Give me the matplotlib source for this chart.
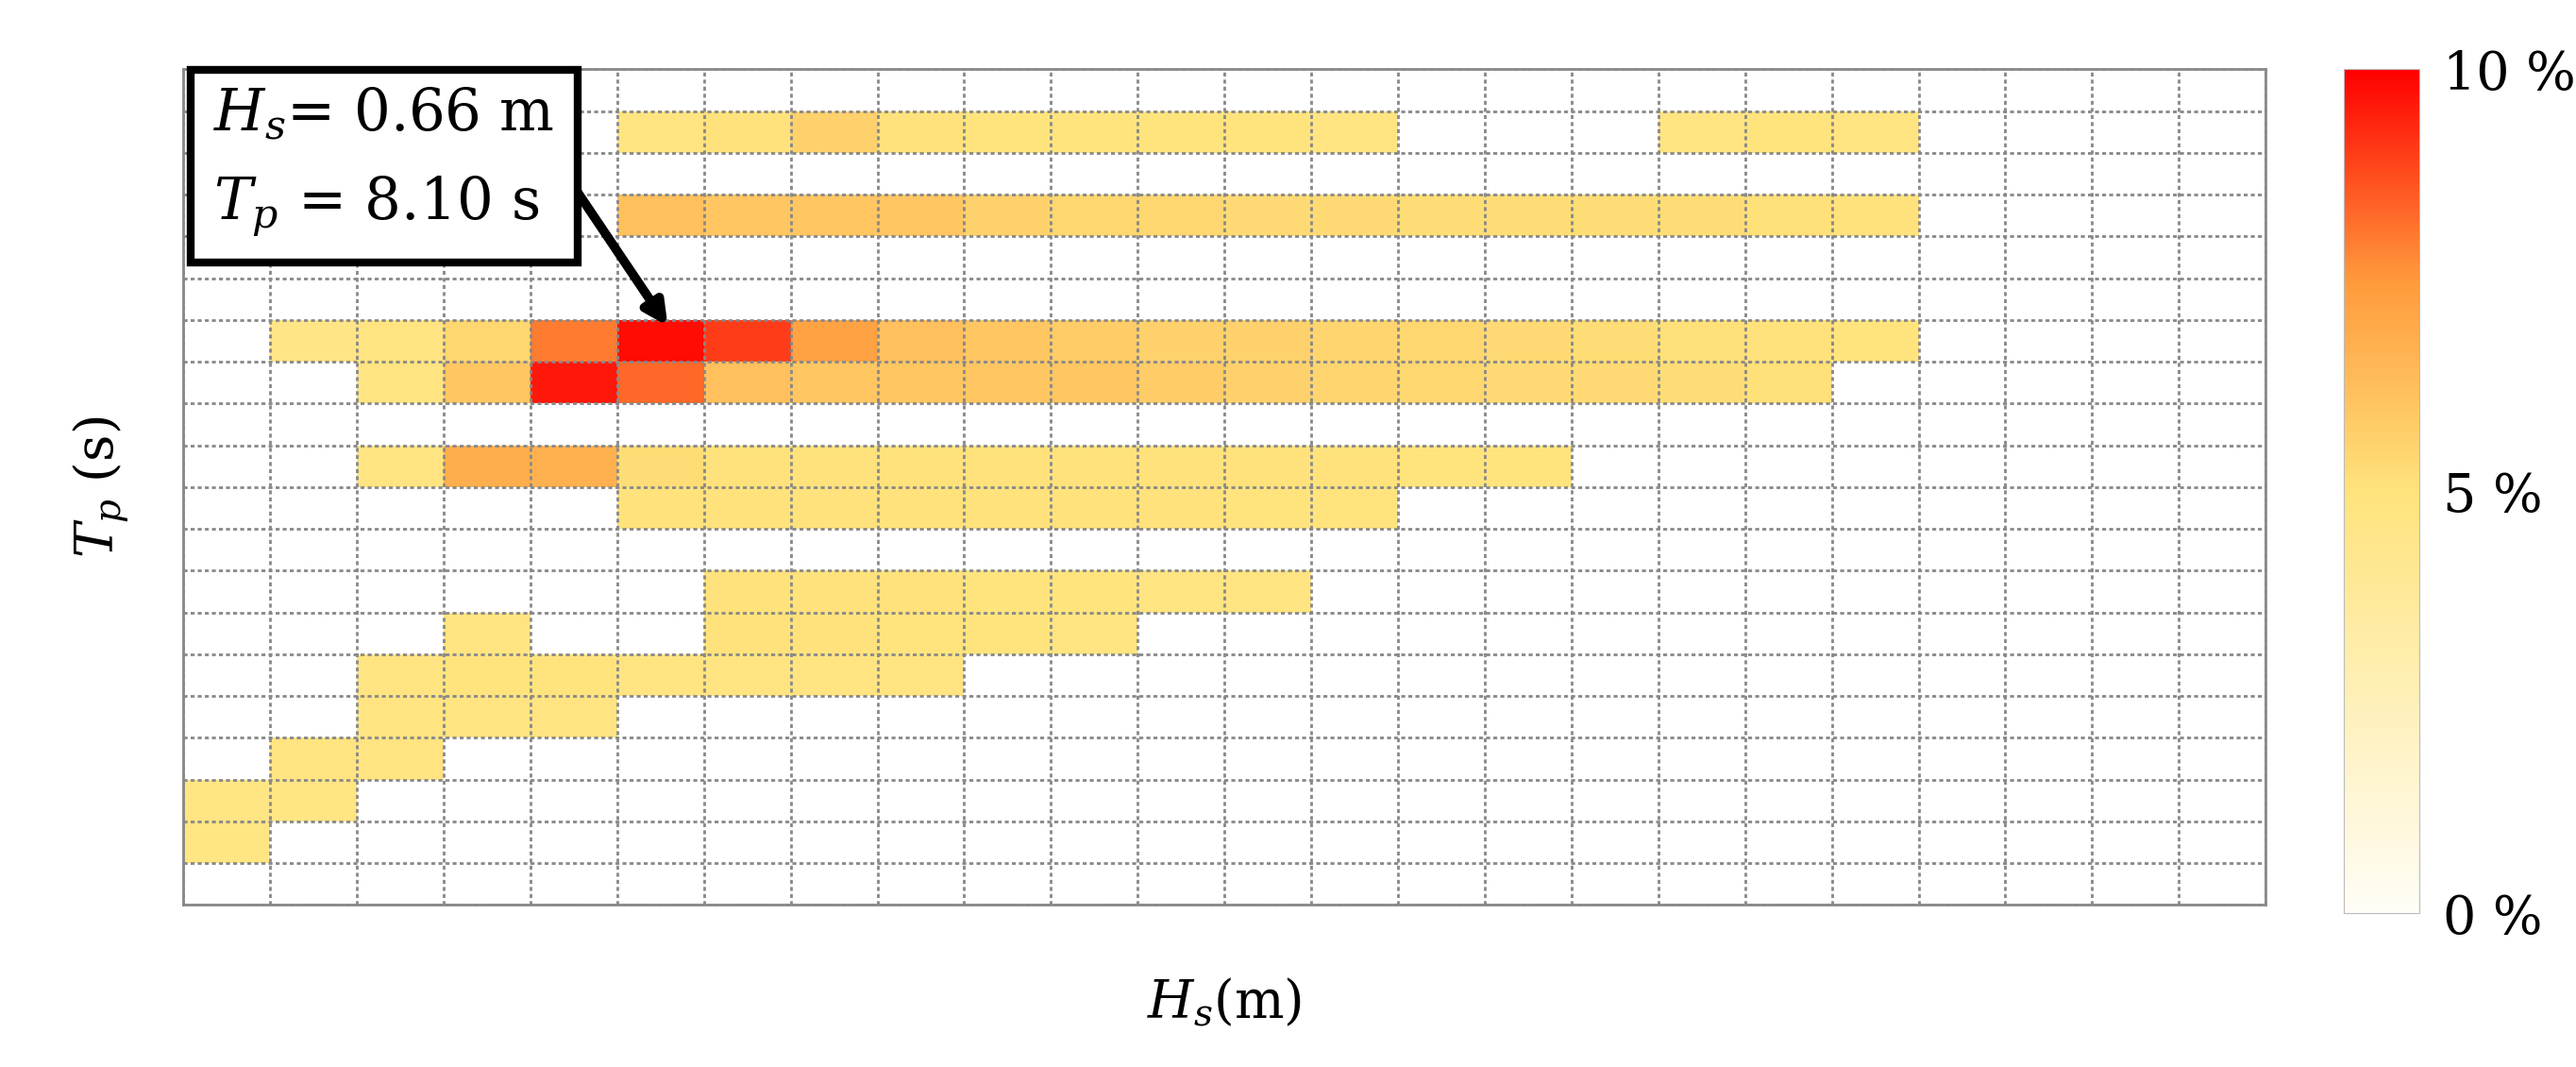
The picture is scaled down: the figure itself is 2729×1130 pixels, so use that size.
import numpy as np
import matplotlib
matplotlib.use("Agg")
import matplotlib.pyplot as plt
from matplotlib.colors import LinearSegmentedColormap

plt.rcParams["mathtext.fontset"] = "dejavuserif"

n_rows, n_cols = 20, 24
# (row from top, first column, cell values in %)
rows = [
    (1, 5, [4.8, 5.0, 5.6, 5.0, 4.9, 4.9, 4.9, 4.9, 4.8]),
    (1, 17, [4.8, 4.9, 4.8]),
    (3, 5, [6.2, 6.0, 6.0, 6.0, 5.6, 5.4, 5.4, 5.3, 5.3, 5.2, 5.2, 5.2, 5.2, 5.1, 5.0]),
    (6, 1, [4.6, 4.8, 5.4, 8.0, 9.8, 9.0, 7.2, 6.2, 6.0, 5.8, 5.6, 5.6, 5.5, 5.4, 5.3, 5.2, 5.1, 5.0, 4.9]),
    (7, 2, [4.8, 6.0, 9.6, 8.3, 6.2, 6.0, 6.0, 6.0, 6.0, 5.8, 5.6, 5.5, 5.4, 5.3, 5.3, 5.2, 5.1]),
    (9, 2, [4.8, 6.8, 6.7, 5.2, 5.0, 5.0, 5.0, 5.0, 5.0, 5.0, 5.0, 5.0, 4.9, 4.9]),
    (10, 5, [5.0, 5.0, 5.0, 5.0, 5.0, 5.0, 5.0, 4.9, 4.9]),
    (12, 6, [5.0, 5.0, 5.0, 4.9, 4.9, 4.8, 4.8]),
    (13, 3, [4.8]),
    (13, 6, [5.0, 5.0, 4.9, 4.9, 4.8]),
    (14, 2, [4.8, 4.9, 4.9, 4.8, 4.8, 4.8, 4.8]),
    (15, 2, [4.8, 4.8, 4.8]),
    (16, 1, [4.8, 4.8]),
    (17, 0, [4.7, 4.7]),
    (18, 0, [4.7]),
]

grid = np.full((n_rows, n_cols), np.nan)
for r, c0, vals in rows:
    grid[r, c0:c0 + len(vals)] = vals

cmap = LinearSegmentedColormap.from_list(
    "wy", [(0.0, "#fffdf6"), (0.5, "#ffe37c"), (0.75, "#ff9a3c"), (1.0, "#ff0000")])

fig = plt.figure(figsize=(27.29, 11.30), dpi=100)
ax = fig.add_axes([0.0712, 0.152, 0.8083, 0.783])
mesh = ax.pcolormesh(np.arange(n_cols + 1), np.arange(n_rows + 1), grid,
                     cmap=cmap, vmin=0, vmax=10)
ax.set_xlim(0, n_cols)
ax.set_ylim(n_rows, 0)
ax.set_xticks(np.arange(n_cols + 1))
ax.set_yticks(np.arange(n_rows + 1))
ax.tick_params(length=0, labelbottom=False, labelleft=False)
ax.grid(True, color="#888888", linestyle=(0, (1.5, 1.2)), linewidth=2)
ax.set_axisbelow(False)
for s in ax.spines.values():
    s.set_color("#888888")
    s.set_linewidth(2)

ax.set_xlabel("$H_s$(m)", fontsize=40, family="DejaVu Serif", labelpad=55)
ax.set_ylabel("$T_p$ (s)", fontsize=40, family="DejaVu Serif", labelpad=40)

ax.annotate("", xy=(5.6, 6.2), xytext=(4.4, 2.5),
            arrowprops=dict(arrowstyle="-|>,head_length=1.4,head_width=0.7",
                            color="black", lw=7), annotation_clip=False)
ax.text(0.35, 0.4, "$H_s$= 0.66 m\n$T_p$ = 8.10 s", fontsize=44,
        family="DejaVu Serif", va="top", ha="left", linespacing=1.7,
        bbox=dict(boxstyle="square,pad=0.4", fc="white", ec="black", lw=6),
        zorder=10, clip_on=False)

cax = fig.add_axes([0.910, 0.144, 0.029, 0.791])
cb = fig.colorbar(mesh, cax=cax)
cb.set_ticks([0, 5, 10])
cb.set_ticklabels(["0 %", "5 %", "10 %"])
cb.ax.tick_params(labelsize=40, length=0, pad=18)
for t in cb.ax.get_yticklabels():
    t.set_family("DejaVu Serif")
cb.outline.set_edgecolor("#bbbbbb")

fig.savefig("out.png", dpi=100)
